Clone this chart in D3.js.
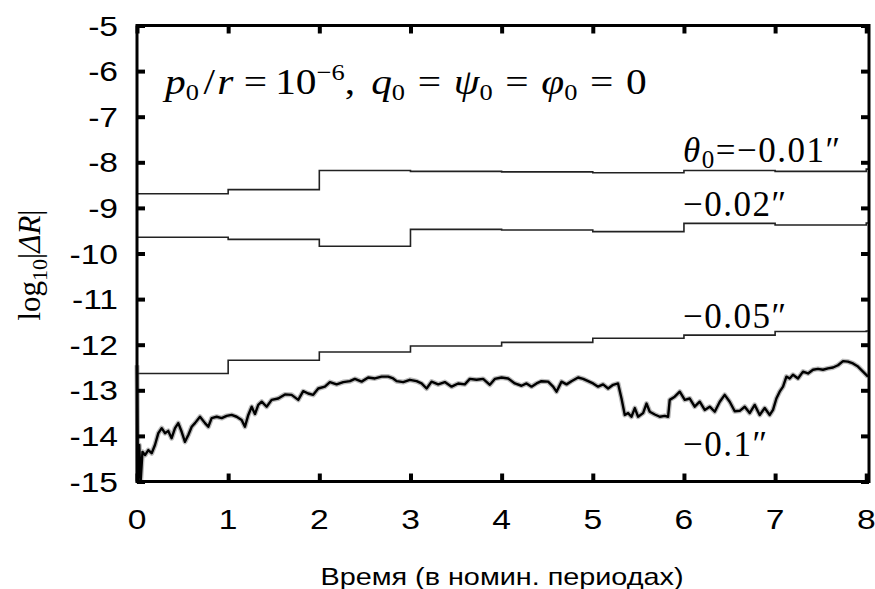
<!DOCTYPE html>
<html>
<head>
<meta charset="utf-8">
<script src="https://cdn.jsdelivr.net/npm/d3@7"></script>
<style>
  body { margin: 0; background: #fff; }
  svg { display: block; }
  .tick-label { font-family: "Liberation Sans", Arial, sans-serif; font-size: 28px; fill: #000; }
  .serif { font-family: "Liberation Serif", "Times New Roman", serif; fill: #000; }
</style>
</head>
<body>
<div id="chart"><svg></svg></div>
<script>
// 여백
var W = 875, H = 589;
var L = 137, R = 6, T = 25.5, B = 107.5;
var SX = 1.2; // 가로로 늘린 글씨

var xTicks = [0, 1, 2, 3, 4, 5, 6, 7, 8];
var yTicks = [-5, -6, -7, -8, -9, -10, -11, -12, -13, -14, -15];

// step series: value on [k, k+1), last one to the right edge
var stepT = [0, 1, 2, 3, 4, 5, 6, 7, 8, 8.03];
var s001 = [-8.69, -8.60, -8.18, -8.20, -8.21, -8.23, -8.18, -8.20, -8.15, -8.15];
var s002 = [-9.645, -9.69, -9.84, -9.47, -9.485, -9.52, -9.34, -9.375, -9.33, -9.33];
var s005 = [-12.63, -12.34, -12.16, -12.03, -11.95, -11.86, -11.79, -11.71, -11.70, -11.70];

// -0.1" curve
var s01t = [0, 0.01, 0.025, 0.04, 0.06, 0.088, 0.124, 0.161, 0.197, 0.234, 0.271, 0.307, 0.343, 0.380,
  0.417, 0.453, 0.490, 0.526, 0.563, 0.600, 0.636, 0.691, 0.746, 0.782, 0.819, 0.874, 0.929, 0.984,
  1.038, 1.093, 1.148, 1.184, 1.221, 1.258, 1.294, 1.330, 1.368, 1.422, 1.477, 1.549, 1.623, 1.696,
  1.769, 1.823, 1.878, 1.933, 1.988, 2.061, 2.116, 2.190, 2.262, 2.336, 2.390, 2.464, 2.536, 2.610,
  2.683, 2.756, 2.810, 2.848, 2.920, 2.993, 3.067, 3.122, 3.177, 3.231, 3.304, 3.377, 3.451, 3.523,
  3.596, 3.651, 3.725, 3.797, 3.871, 3.925, 3.999, 4.071, 4.145, 4.218, 4.273, 4.328, 4.383, 4.437,
  4.510, 4.565, 4.602, 4.657, 4.712, 4.766, 4.839, 4.894, 4.949, 5.003, 5.058, 5.113, 5.168, 5.223,
  5.277, 5.315, 5.351, 5.387, 5.424, 5.461, 5.497, 5.552, 5.589, 5.625, 5.680, 5.735, 5.789, 5.826,
  5.844, 5.899, 5.954, 6.009, 6.064, 6.118, 6.173, 6.228, 6.283, 6.338, 6.393, 6.447, 6.502, 6.557,
  6.612, 6.667, 6.721, 6.776, 6.831, 6.886, 6.941, 6.977, 7.014, 7.050, 7.087, 7.124, 7.160, 7.196,
  7.251, 7.306, 7.361, 7.416, 7.470, 7.525, 7.580, 7.635, 7.690, 7.745, 7.799, 7.854, 7.909, 7.964,
  8.019];
var s01v = [-12.45, -15.0, -14.2, -15.0, -14.35, -14.42, -14.31, -14.38, -14.20, -13.94, -13.83, -13.94, -13.89, -14.05,
  -13.83, -13.72, -13.91, -14.13, -13.98, -13.80, -13.72, -13.58, -13.72, -13.80, -13.61, -13.58, -13.61, -13.56,
  -13.54, -13.58, -13.65, -13.80, -13.54, -13.36, -13.52, -13.32, -13.25, -13.36, -13.21, -13.18, -13.09, -13.10,
  -13.21, -13.02, -13.07, -13.10, -12.96, -12.92, -12.82, -12.87, -12.82, -12.80, -12.75, -12.81, -12.72, -12.74,
  -12.70, -12.70, -12.74, -12.80, -12.82, -12.77, -12.80, -12.85, -12.96, -12.81, -12.87, -12.82, -12.92, -12.85,
  -12.87, -12.75, -12.77, -12.75, -12.88, -12.75, -12.72, -12.74, -12.85, -12.90, -12.85, -12.92, -12.85, -12.80,
  -12.81, -12.92, -13.03, -12.81, -12.87, -12.80, -12.72, -12.75, -12.80, -12.85, -12.92, -12.87, -12.96, -12.88,
  -12.85, -13.18, -13.54, -13.50, -13.58, -13.39, -13.58, -13.50, -13.29, -13.47, -13.53, -13.58, -13.56, -13.58,
  -13.21, -13.14, -13.03, -13.21, -13.18, -13.36, -13.25, -13.43, -13.36, -13.47, -13.25, -13.10, -13.25, -13.46,
  -13.45, -13.36, -13.50, -13.32, -13.54, -13.39, -13.54, -13.43, -13.18, -13.03, -12.92, -12.70, -12.74, -12.66,
  -12.74, -12.59, -12.63, -12.55, -12.53, -12.55, -12.52, -12.50, -12.45, -12.36, -12.37, -12.41, -12.48, -12.59,
  -12.70];

var x = d3.scaleLinear().domain([0, 8.03]).range([L, W - R]);
var y = d3.scaleLinear().domain([-15, -5]).range([H - B, T]);

var svg = d3.select("#chart svg").attr("width", W).attr("height", H);

var stepLine = d3.line()
    .x(function(d, i) { return x(stepT[i]); })
    .y(function(d) { return y(d); })
    .curve(d3.curveStepAfter);

var gData = svg.append("g").attr("class", "data");
[s001, s002, s005].forEach(function(s) {
    gData.append("path")
        .attr("d", stepLine(s))
        .attr("fill", "none")
        .attr("stroke", "#222")
        .attr("stroke-width", 1.6);
});

var noisy = d3.line()
    .x(function(d, i) { return x(s01t[i]); })
    .y(function(d) { return y(d); });
gData.append("path")
    .attr("d", noisy(s01v))
    .attr("fill", "none")
    .attr("stroke", "#777")
    .attr("stroke-opacity", 0.5)
    .attr("stroke-width", 5)
    .attr("stroke-linejoin", "round");
gData.append("path")
    .attr("d", noisy(s01v))
    .attr("fill", "none")
    .attr("stroke", "#000")
    .attr("stroke-width", 2.4)
    .attr("stroke-linejoin", "round");

// 축: 안쪽 눈금, 네 변 모두
var tk = 8;
var gAxis = svg.append("g").attr("class", "axis");
gAxis.append("g").attr("transform", "translate(0," + (H - B) + ")")
    .call(d3.axisBottom(x).tickValues(xTicks).tickSize(-tk).tickFormat(""));
gAxis.append("g").attr("transform", "translate(0," + T + ")")
    .call(d3.axisTop(x).tickValues(xTicks).tickSize(-tk).tickFormat(""));
gAxis.append("g").attr("transform", "translate(" + L + ",0)")
    .call(d3.axisLeft(y).tickValues(yTicks).tickSize(-tk).tickFormat(""));
gAxis.append("g").attr("transform", "translate(" + (W - R) + ",0)")
    .call(d3.axisRight(y).tickValues(yTicks).tickSize(-tk).tickFormat(""));
gAxis.selectAll(".domain").remove();
gAxis.selectAll(".tick line").attr("stroke", "#000").attr("stroke-width", 4);

svg.append("rect")
    .attr("x", L).attr("y", T)
    .attr("width", W - R - L).attr("height", H - B - T)
    .attr("fill", "none").attr("stroke", "#000").attr("stroke-width", 3);

// tick labels
svg.append("g").selectAll("text").data(xTicks).enter().append("text")
    .attr("class", "tick-label")
    .attr("transform", function(d) { return "translate(" + x(d) + ",529) scale(" + SX + ",1)"; })
    .attr("text-anchor", "middle")
    .text(function(d) { return d; });
svg.append("g").selectAll("text").data(yTicks).enter().append("text")
    .attr("class", "tick-label")
    .attr("transform", function(d) { return "translate(118," + y(d) + ") scale(" + SX + ",1)"; })
    .attr("dy", "0.36em")
    .attr("text-anchor", "end")
    .text(function(d) { return d; });

// axis titles
svg.append("text")
    .attr("transform", "translate(502,585) scale(" + SX + ",1)")
    .attr("text-anchor", "middle")
    .style("font-family", "'Liberation Sans', Arial, sans-serif")
    .style("font-size", "24px")
    .text("Время (в номин. периодах)");

var yl = svg.append("text")
    .attr("class", "serif")
    .attr("transform", "translate(40,265) rotate(-90)")
    .attr("text-anchor", "middle")
    .style("font-size", "31px");
yl.append("tspan").text("log");
yl.append("tspan").attr("dy", 7).style("font-size", "22px").text("10");
yl.append("tspan").attr("dy", -7).text("|");
yl.append("tspan").style("font-style", "italic").text("ΔR");
yl.append("tspan").text("|");

// annotation
var an = svg.append("text")
    .attr("class", "serif")
    .attr("transform", "translate(165,94) scale(1.15,1)")
    .style("font-size", "36px");
an.append("tspan").style("font-style", "italic").text("p");
an.append("tspan").attr("dy", 6).style("font-size", "23px").text("0");
an.append("tspan").attr("dy", -6).attr("dx", 4).text("/");
an.append("tspan").attr("dx", 2).style("font-style", "italic").text("r");
an.append("tspan").attr("dx", 9).text("=");
an.append("tspan").attr("dx", 7).text("10");
an.append("tspan").attr("dy", -14).style("font-size", "23px").text("−6");
an.append("tspan").attr("dy", 14).text(",");
an.append("tspan").attr("dx", 14).style("font-style", "italic").text("q");
an.append("tspan").attr("dy", 6).style("font-size", "23px").text("0");
an.append("tspan").attr("dy", -6).attr("dx", 11).text("=");
an.append("tspan").attr("dx", 11).style("font-style", "italic").text("ψ");
an.append("tspan").attr("dy", 6).style("font-size", "23px").text("0");
an.append("tspan").attr("dy", -6).attr("dx", 11).text("=");
an.append("tspan").attr("dx", 11).style("font-style", "italic").text("φ");
an.append("tspan").attr("dy", 6).style("font-size", "23px").text("0");
an.append("tspan").attr("dy", -6).attr("dx", 11).text("=");
an.append("tspan").attr("dx", 11).text("0");

// series labels
var labels = [
    { t: "θ", sub: "0", rest: "=−0.01″", yy: 162 },
    { t: "", sub: "", rest: "−0.02″", yy: 216 },
    { t: "", sub: "", rest: "−0.05″", yy: 328 },
    { t: "", sub: "", rest: "−0.1″", yy: 456 }
];
labels.forEach(function(d) {
    var tx = svg.append("text").attr("class", "serif")
        .attr("x", 683).attr("y", d.yy)
        .style("font-size", "35px")
        .style("letter-spacing", "1.5px");
    if (d.t) {
        tx.append("tspan").style("font-style", "italic").text(d.t);
        tx.append("tspan").attr("dy", 6).style("font-size", "25px").text(d.sub);
        tx.append("tspan").attr("dy", -6).text(d.rest);
    } else {
        tx.append("tspan").text(d.rest);
    }
});
</script>
</body>
</html>
